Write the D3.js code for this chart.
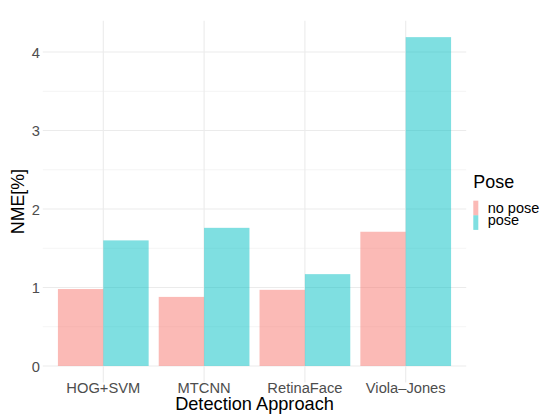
<!DOCTYPE html>
<html>
<head>
<meta charset="utf-8">
<script src="https://cdn.jsdelivr.net/npm/d3@7/dist/d3.min.js"></script>
<style>
  html, body { margin: 0; padding: 0; background: #fff; }
  svg { display: block; font-family: "Liberation Sans", Arial, Helvetica, sans-serif; }
</style>
</head>
<body>
<svg id="chart" width="546" height="416"></svg>
<script>
// Detection approaches on the x axis
const approaches = ["HOG+SVM", "MTCNN", "RetinaFace", "Viola\u2013Jones"];
// Pose groups (legend order)
const poses = ["no pose", "pose"];
// NME [%] per approach
const noPoseValues = [0.98, 0.88, 0.97, 1.71];
const poseValues = [1.60, 1.76, 1.17, 4.19];
// Y axis ticks
const yTicks = [0, 1, 2, 3, 4];
const yMinorTicks = [0.5, 1.5, 2.5, 3.5];
const poseColors = ["#F8766D", "#00BFC4"];

const rows = approaches.map((a, i) => ({
  approach: a,
  values: [
    { pose: poses[0], value: noPoseValues[i] },
    { pose: poses[1], value: poseValues[i] }
  ]
}));

const svg = d3.select("#chart");
const panel = { left: 42.8, right: 466.2, top: 20.7, bottom: 382.4 };

const maxVal = d3.max(poseValues.concat(noPoseValues));
const pad = maxVal * 0.05;
const y = d3.scaleLinear().domain([-pad, maxVal + pad]).range([panel.bottom, panel.top]);

// Discrete x: bars take 0.9 of each step, 0.6 step of room at each end
const x = d3.scaleBand().domain(approaches)
  .range([panel.left, panel.right])
  .paddingInner(0.1).paddingOuter(0.15);
const xSub = d3.scaleBand().domain(poses).range([0, x.bandwidth()]);
const color = d3.scaleOrdinal().domain(poses).range(poseColors);

const grid = svg.append("g");
// minor horizontal gridlines
grid.selectAll("line.minor").data(yMinorTicks).join("line")
  .attr("x1", panel.left).attr("x2", panel.right)
  .attr("y1", d => y(d)).attr("y2", d => y(d))
  .attr("stroke", "#EBEBEB").attr("stroke-width", 0.55);
// major horizontal gridlines
grid.selectAll("line.major").data(yTicks).join("line")
  .attr("x1", panel.left).attr("x2", panel.right)
  .attr("y1", d => y(d)).attr("y2", d => y(d))
  .attr("stroke", "#EBEBEB").attr("stroke-width", 1.1);
// vertical gridlines at category centres
grid.selectAll("line.vert").data(approaches).join("line")
  .attr("x1", d => x(d) + x.bandwidth() / 2).attr("x2", d => x(d) + x.bandwidth() / 2)
  .attr("y1", panel.top).attr("y2", panel.bottom)
  .attr("stroke", "#EBEBEB").attr("stroke-width", 1.1);

// bars
svg.append("g").selectAll("g").data(rows).join("g")
  .attr("transform", d => `translate(${x(d.approach)},0)`)
  .selectAll("rect").data(d => d.values).join("rect")
  .attr("x", d => xSub(d.pose))
  .attr("width", xSub.bandwidth())
  .attr("y", d => y(d.value))
  .attr("height", d => y(0) - y(d.value))
  .attr("fill", d => color(d.pose))
  .attr("fill-opacity", 0.5);

// y axis
const yAxis = svg.append("g")
  .attr("transform", `translate(${panel.left - 2.8},0)`)
  .call(d3.axisLeft(y).tickValues(yTicks).tickSize(0).tickPadding(0).tickFormat(d3.format("d")));
yAxis.select(".domain").remove();
yAxis.selectAll("text").attr("fill", "#4D4D4D").attr("font-size", "14.7px").attr("dy", "0.36em");

// x axis
const xAxis = svg.append("g")
  .attr("transform", `translate(0,${panel.bottom})`)
  .call(d3.axisBottom(x).tickSize(0).tickPadding(0));
xAxis.select(".domain").remove();
xAxis.selectAll("text").attr("fill", "#4D4D4D").attr("font-size", "14.7px")
  .attr("y", 0).attr("dy", null).attr("transform", "translate(0,10.9)");

// axis titles
svg.append("text")
  .attr("x", (panel.left + panel.right) / 2).attr("y", 410)
  .attr("text-anchor", "middle").attr("font-size", "18.2px").attr("fill", "#000")
  .text("Detection Approach");
svg.append("text")
  .attr("transform", `translate(23.5,${(panel.top + panel.bottom) / 2}) rotate(-90)`)
  .attr("text-anchor", "middle").attr("font-size", "17.8px").attr("fill", "#000")
  .text("NME[%]");

// legend
const legend = svg.append("g").attr("transform", "translate(473.3,0)");
legend.append("text").attr("x", 0).attr("y", 188.3)
  .attr("font-size", "17.9px").attr("fill", "#000").text("Pose");
const keyH = 14.6;
legend.selectAll("rect").data(poses).join("rect")
  .attr("x", 0).attr("y", (d, i) => 200.7 + i * keyH)
  .attr("width", 5).attr("height", keyH)
  .attr("fill", d => color(d)).attr("fill-opacity", 0.5);
legend.selectAll("text.lab").data(poses).join("text")
  .attr("class", "lab")
  .attr("x", 14.4).attr("y", (d, i) => 213.3 + i * 11.8)
  .attr("font-size", "14.5px").attr("fill", "#000")
  .text(d => d);
</script>
</body>
</html>
